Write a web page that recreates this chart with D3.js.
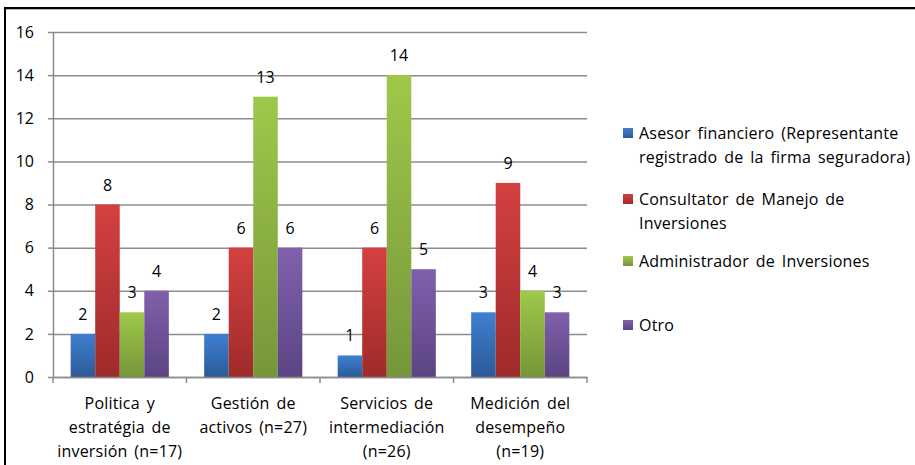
<!DOCTYPE html>
<html>
<head>
<meta charset="utf-8">
<script src="https://cdn.jsdelivr.net/npm/d3@7"></script>
<style>
  body { margin: 0; background: #fff; }
  svg text { font-family: "Open Sans", "Noto Sans", sans-serif; fill: #000; }
  .wide { letter-spacing: 0.2px; word-spacing: 2.5px; }
</style>
</head>
<body>
<svg id="chart"></svg>
<script>
// categories (x axis, one label line per entry)
const categories = ["politica", "gestion", "servicios", "medicion"];
const categoryLines = [
  ["Politica y", "estratégia de", "inversión (n=17)"],
  ["Gestión de", "activos (n=27)"],
  ["Servicios de", "intermediación", "(n=26)"],
  ["Medición del", "desempeño", "(n=19)"]
];

// series
const seriesNames = ["asesor", "consultor", "administrador", "otro"];
const seriesLabels = [
  ["Asesor financiero (Representante", "registrado de la firma seguradora)"],
  ["Consultator de Manejo de", "Inversiones"],
  ["Administrador de Inversiones"],
  ["Otro"]
];
const asesor = [2, 2, 1, 3];
const consultor = [8, 6, 6, 9];
const administrador = [3, 13, 14, 4];
const otro = [4, 6, 5, 3];

const yTicks = [0, 2, 4, 6, 8, 10, 12, 14, 16];

const colorsTop = ["#3E80D0", "#D44040", "#9FC84A", "#8060AC"];
const colorsBottom = ["#2B5A98", "#9E2B2A", "#76963A", "#5C4482"];

const width = 915, height = 465;
const margin = { top: 32, left: 53, right: 328, bottom: 88 };
const innerW = 587 - margin.left;
const innerH = 377 - margin.top;

const svg = d3.select("#chart").attr("width", width).attr("height", height);

// gradients for bars
const defs = svg.append("defs");
seriesNames.forEach((s, i) => {
  const g = defs.append("linearGradient")
    .attr("id", "grad-" + s)
    .attr("x1", "0%").attr("y1", "0%")
    .attr("x2", "0%").attr("y2", "100%");
  g.append("stop").attr("offset", "0%").attr("stop-color", colorsTop[i]);
  g.append("stop").attr("offset", "100%").attr("stop-color", colorsBottom[i]);
});

// outer frame (top + left edges visible)
svg.append("line").attr("x1", 4).attr("x2", width).attr("y1", 8).attr("y2", 8)
  .attr("stroke", "#000").attr("stroke-width", 2);
svg.append("line").attr("x1", 4).attr("x2", width).attr("y1", 9.5).attr("y2", 9.5)
  .attr("stroke", "#bbb").attr("stroke-width", 1);
svg.append("line").attr("x1", 5).attr("x2", 5).attr("y1", 7).attr("y2", height)
  .attr("stroke", "#000").attr("stroke-width", 2);

const chart = svg.append("g").attr("transform", `translate(${margin.left},${margin.top})`);

const x0 = d3.scaleBand().domain(categories).range([0, innerW]).padding(0);
const x1 = d3.scaleBand().domain(seriesNames).range([0, x0.bandwidth()])
  .paddingInner(0).paddingOuter(0.72);
const y = d3.scaleLinear().domain([0, 16]).range([innerH, 0]);

// gridlines
chart.append("g")
  .attr("class", "grid")
  .call(d3.axisLeft(y).tickValues(yTicks).tickSize(-innerW).tickFormat(""))
  .call(g => g.select(".domain").remove())
  .call(g => g.selectAll("line").attr("stroke", "#8c8c8c").attr("stroke-width", 1.5));

// y axis
chart.append("g")
  .call(d3.axisLeft(y).tickValues(yTicks).tickSize(5).tickPadding(14).tickSizeOuter(0))
  .call(g => g.select(".domain").attr("stroke", "#8c8c8c").attr("stroke-width", 1.5))
  .call(g => g.selectAll(".tick line").attr("stroke", "#8c8c8c").attr("stroke-width", 1.5))
  .call(g => g.selectAll("text").attr("font-size", "16px")
    .style("font-family", '"Open Sans", "Noto Sans", sans-serif').attr("fill", "#000"));

// bars
const rows = categories.map((c, i) => ({
  cat: c,
  vals: [asesor[i], consultor[i], administrador[i], otro[i]]
}));

const groups = chart.selectAll(".group")
  .data(rows)
  .join("g")
  .attr("class", "group")
  .attr("transform", d => `translate(${x0(d.cat)},0)`);

groups.selectAll("rect")
  .data(d => d.vals.map((v, j) => ({ key: seriesNames[j], v })))
  .join("rect")
  .attr("x", d => x1(d.key))
  .attr("y", d => y(d.v))
  .attr("width", x1.bandwidth())
  .attr("height", d => innerH - y(d.v))
  .attr("fill", d => `url(#grad-${d.key})`);

groups.selectAll(".val")
  .data(d => d.vals.map((v, j) => ({ key: seriesNames[j], v })))
  .join("text")
  .attr("class", "val")
  .attr("x", d => x1(d.key) + x1.bandwidth() / 2)
  .attr("y", d => y(d.v) - 14)
  .attr("text-anchor", "middle")
  .attr("font-size", "16px")
  .text(d => d.v);

// x axis
chart.append("g")
  .attr("transform", `translate(0,${innerH})`)
  .call(d3.axisBottom(x0).tickSize(0).tickFormat(""))
  .call(g => g.select(".domain").attr("stroke", "#8c8c8c").attr("stroke-width", 1.5));

// category separators
chart.append("g").selectAll("line")
  .data(categories.concat(["end"]))
  .join("line")
  .attr("x1", (d, i) => i * x0.step())
  .attr("x2", (d, i) => i * x0.step())
  .attr("y1", innerH)
  .attr("y2", innerH + 6)
  .attr("stroke", "#8c8c8c").attr("stroke-width", 1.5);

// category labels
chart.append("g").selectAll("text")
  .data(categories)
  .join("text")
  .attr("class", "wide")
  .attr("x", d => x0(d) + x0.bandwidth() / 2)
  .attr("y", innerH + 32)
  .attr("text-anchor", "middle")
  .attr("font-size", "16px")
  .each(function(d, i) {
    d3.select(this).selectAll("tspan")
      .data(categoryLines[i])
      .join("tspan")
      .attr("x", x0(d) + x0.bandwidth() / 2)
      .attr("dy", (t, k) => k === 0 ? 0 : 24)
      .text(t => t);
  });

// legend
const legendY = [133, 199, 261, 325];
const legend = svg.append("g").attr("transform", "translate(623,0)");
seriesNames.forEach((s, i) => {
  legend.append("rect")
    .attr("x", 0).attr("y", legendY[i] - 5)
    .attr("width", 10).attr("height", 10)
    .attr("fill", `url(#grad-${s})`);
  legend.append("text")
    .attr("class", "wide")
    .attr("x", 16).attr("y", legendY[i] + 6)
    .attr("font-size", "16px")
    .selectAll("tspan")
    .data(seriesLabels[i])
    .join("tspan")
    .attr("x", 16)
    .attr("dy", (t, k) => k === 0 ? 0 : 24)
    .text(t => t);
});
</script>
</body>
</html>
